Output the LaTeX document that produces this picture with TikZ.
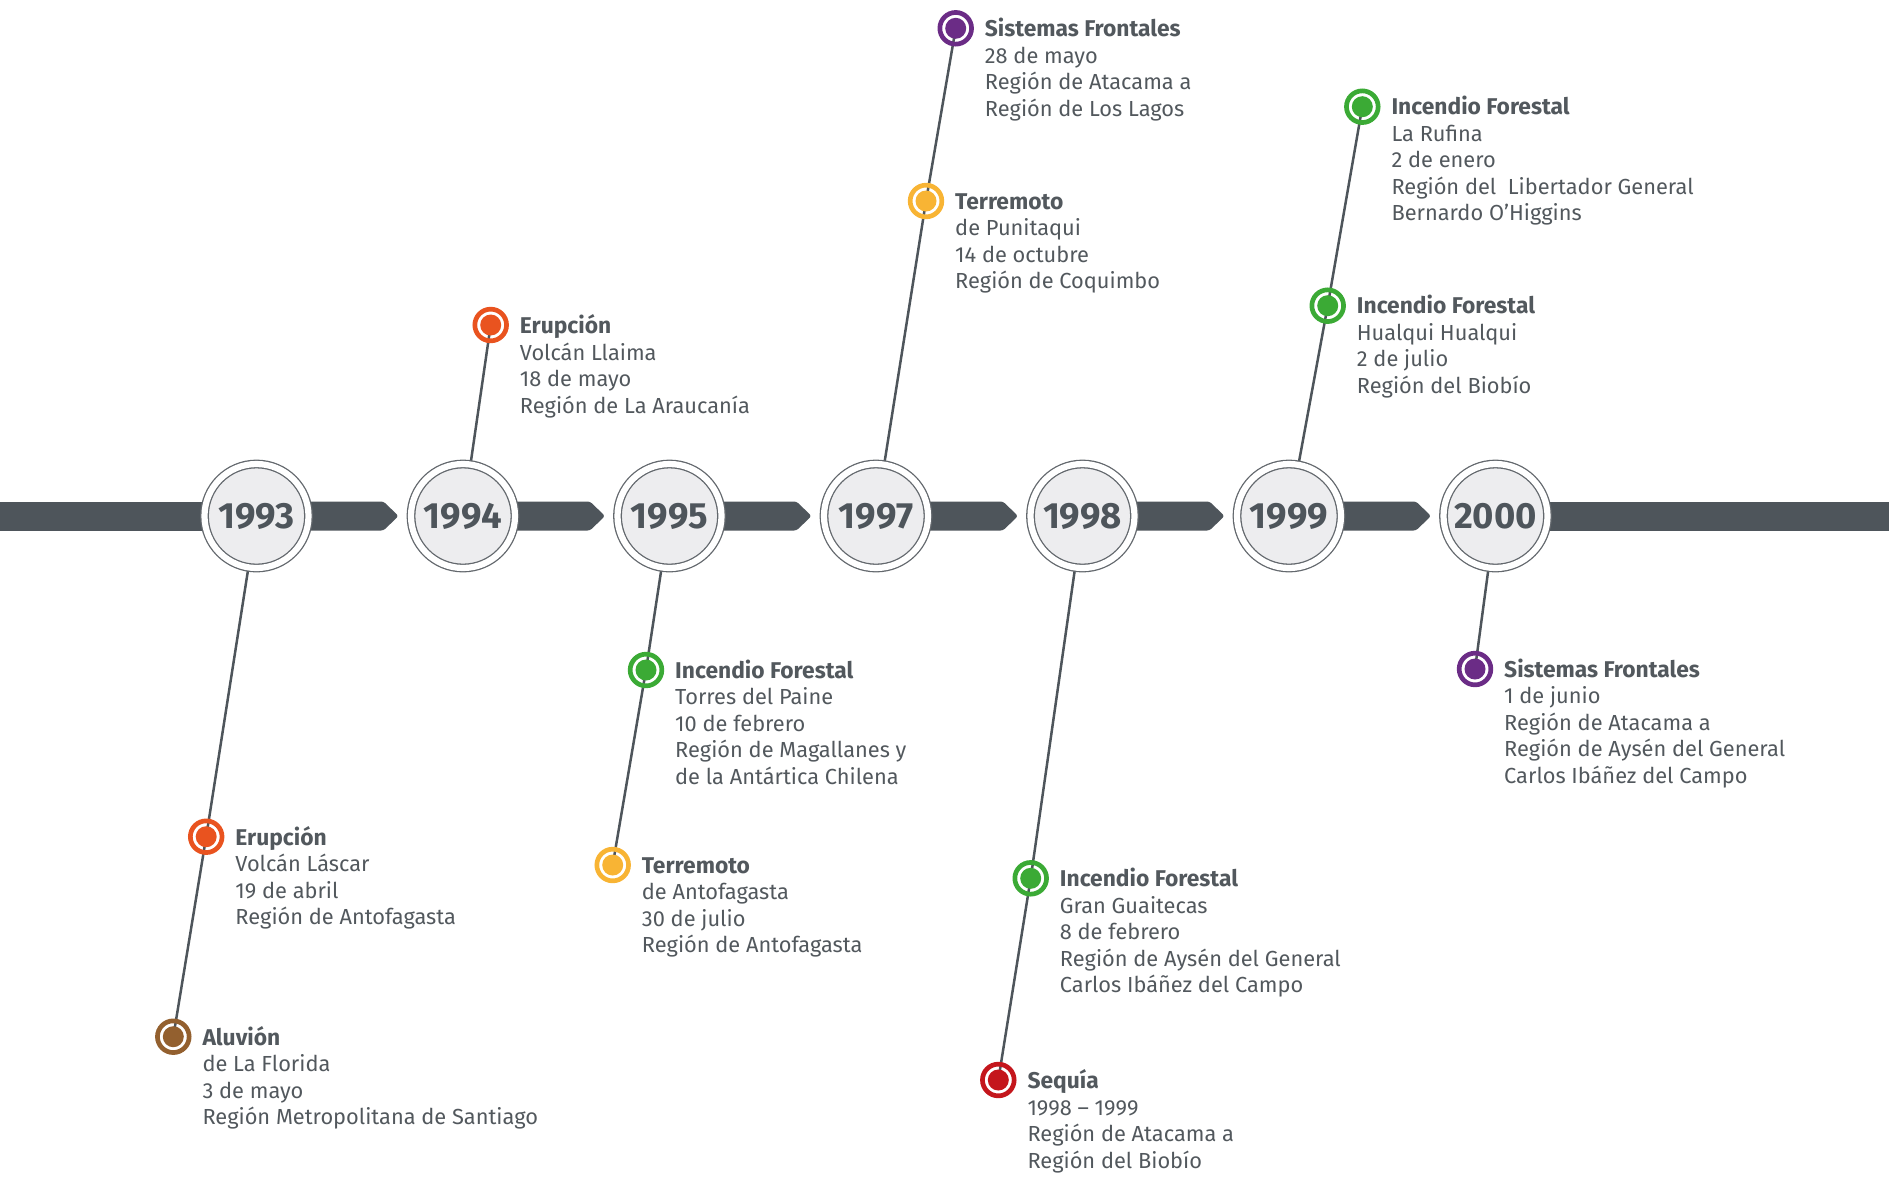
\documentclass[tikz,border=0pt]{standalone}
\usepackage{fontspec}
\setmainfont{Fira Sans}
\usetikzlibrary{backgrounds}

\definecolor{bar}{HTML}{4E555B}
\definecolor{txt}{HTML}{52585D}
\definecolor{rim}{HTML}{63686D}
\definecolor{ball}{HTML}{EDEDEF}
\definecolor{erupt}{HTML}{E9531F}
\definecolor{mud}{HTML}{93602F}
\definecolor{front}{HTML}{6B2C86}
\definecolor{quake}{HTML}{F8B434}
\definecolor{fire}{HTML}{3BAA35}
\definecolor{drought}{HTML}{C4161C}

% event title, with a strut so every first line has the same height
\newcommand{\evtitle}[1]{{\fontsize{22.8}{26.5}\selectfont\bfseries #1}\strut}

\tikzset{
  yearball/.style={circle, draw=rim, line width=1.3pt, double=white, double distance=6.2pt,
    fill=ball, minimum size=104pt, inner sep=0pt, text=bar,
    font=\bfseries\fontsize{36.5}{36.5}\selectfont},
  evdot/.style={circle, draw=#1, line width=4.7pt, minimum size=31.7pt, inner sep=0pt,
    path picture={\fill[#1] (path picture bounding box.center) circle (10.5pt);}},
  evtext/.style={anchor=north west, align=left, inner sep=0pt, text=txt,
    font=\fontsize{21.8}{26.5}\selectfont},
  stem/.style={draw=bar, line width=2.5pt}
}

\begin{document}
\begin{tikzpicture}[x=1pt, y=-1pt]
  \useasboundingbox (0,0) rectangle (1889,1176);
  \def\yrarrow{\fill[bar, rounded corners=2.5pt] (0,501.5) -- (127,501.5) -- (142,516) -- (127,530.5) -- (0,530.5) -- cycle;}

  % timeline
  \fill[bar] (0,501.5) rectangle (256.5,530.5);
  \fill[bar] (1495.5,501.5) rectangle (1889,530.5);
  \begin{scope}[xshift=256.5pt] \yrarrow \end{scope}
  \begin{scope}[xshift=463pt] \yrarrow \end{scope}
  \begin{scope}[xshift=669.5pt] \yrarrow \end{scope}
  \begin{scope}[xshift=876pt] \yrarrow \end{scope}
  \begin{scope}[xshift=1082.5pt] \yrarrow \end{scope}
  \begin{scope}[xshift=1289pt] \yrarrow \end{scope}

  \node[yearball] (y1993) at (256.5,516) {1993};
  \node[yearball] (y1994) at (463,516) {1994};
  \node[yearball] (y1995) at (669.5,516) {1995};
  \node[yearball] (y1997) at (876,516) {1997};
  \node[yearball] (y1998) at (1082.5,516) {1998};
  \node[yearball] (y1999) at (1289,516) {1999};
  \node[yearball] (y2000) at (1495.5,516) {2000};

  % events
  \node[evdot=erupt] (m93a) at (206.2,836.7) {};
  \node[evdot=mud] (m93b) at (173.3,1036.7) {};
  \node[evdot=erupt] (m94a) at (490.7,325) {};
  \node[evdot=fire] (m95a) at (646,670) {};
  \node[evdot=quake] (m95b) at (612.7,865) {};
  \node[evdot=front] (m97a) at (955.7,28.3) {};
  \node[evdot=quake] (m97b) at (926,201) {};
  \node[evdot=fire] (m98a) at (1030.7,878.3) {};
  \node[evdot=drought] (m98b) at (998.3,1080) {};
  \node[evdot=fire] (m99a) at (1362.3,106.7) {};
  \node[evdot=fire] (m99b) at (1327.7,305.7) {};
  \node[evdot=front] (m00a) at (1475,669) {};

  \begin{scope}[on background layer]
    \draw[stem] (y1993.center) -- (m93a.center) -- (m93b.center);
    \draw[stem] (y1994.center) -- (m94a.center);
    \draw[stem] (y1995.center) -- (m95a.center) -- (m95b.center);
    \draw[stem] (y1997.center) -- (m97b.center) -- (m97a.center);
    \draw[stem] (y1998.center) -- (m98a.center) -- (m98b.center);
    \draw[stem] (y1999.center) -- (m99b.center) -- (m99a.center);
    \draw[stem] (y2000.center) -- (m00a.center);
  \end{scope}

  \node[evtext] (t93a) at ([xshift=29pt,yshift=10.5pt]m93a.center) {\evtitle{Erupción}\\Volcán Láscar\\19 de abril\\Región de Antofagasta};
  \node[evtext] (t93b) at ([xshift=29pt,yshift=10.5pt]m93b.center) {\evtitle{Aluvión}\\de La Florida\\3 de mayo\\Región Metropolitana de Santiago};
  \node[evtext] (t94a) at ([xshift=29pt,yshift=10.5pt]m94a.center) {\evtitle{Erupción}\\Volcán Llaima\\18 de mayo\\Región de La Araucanía};
  \node[evtext] (t95a) at ([xshift=29pt,yshift=10.5pt]m95a.center) {\evtitle{Incendio Forestal}\\Torres del Paine\\10 de febrero\\Región de Magallanes y\\de la Antártica Chilena};
  \node[evtext] (t95b) at ([xshift=29pt,yshift=10.5pt]m95b.center) {\evtitle{Terremoto}\\de Antofagasta\\30 de julio\\Región de Antofagasta};
  \node[evtext] (t97a) at ([xshift=29pt,yshift=10.5pt]m97a.center) {\evtitle{Sistemas Frontales}\\28 de mayo\\Región de Atacama a\\Región de Los Lagos};
  \node[evtext] (t97b) at ([xshift=29pt,yshift=10.5pt]m97b.center) {\evtitle{Terremoto}\\de Punitaqui\\14 de octubre\\Región de Coquimbo};
  \node[evtext] (t98a) at ([xshift=29pt,yshift=10.5pt]m98a.center) {\evtitle{Incendio Forestal}\\Gran Guaitecas\\8 de febrero\\Región de Aysén del General\\Carlos Ibáñez del Campo};
  \node[evtext] (t98b) at ([xshift=29pt,yshift=10.5pt]m98b.center) {\evtitle{Sequía}\\1998 – 1999\\Región de Atacama a\\Región del Biobío};
  \node[evtext] (t99a) at ([xshift=29pt,yshift=10.5pt]m99a.center) {\evtitle{Incendio Forestal}\\La Rufina\\2 de enero\\Región del~ Libertador General\\Bernardo O’Higgins};
  \node[evtext] (t99b) at ([xshift=29pt,yshift=10.5pt]m99b.center) {\evtitle{Incendio Forestal}\\Hualqui Hualqui\\2 de julio\\Región del Biobío};
  \node[evtext] (t00a) at ([xshift=29pt,yshift=10.5pt]m00a.center) {\evtitle{Sistemas Frontales}\\1 de junio\\Región de Atacama a\\Región de Aysén del General\\Carlos Ibáñez del Campo};
\end{tikzpicture}
\end{document}
